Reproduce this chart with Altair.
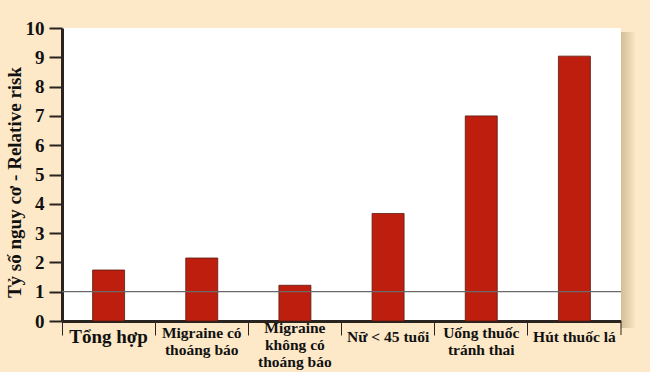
import altair as alt
import pandas as pd

categories = [
    "Tổng hợp",
    "Migraine có\nthoáng báo",
    "Migraine\nkhông có\nthoáng báo",
    "Nữ < 45 tuổi",
    "Uống thuốc\ntránh thai",
    "Hút thuốc lá",
]
relative_risk = [1.74, 2.15, 1.22, 3.67, 7.0, 9.04]
reference_value = [1]
y_ticks = list(range(0, 11))

df = pd.DataFrame({"cat": categories, "rr": relative_risk})
ref = pd.DataFrame({"v": reference_value})

FONT = "Liberation Serif"
DARK = "#2a2420"
BG = "#FDE8C7"

xscale = alt.Scale(domain=categories, paddingInner=0, paddingOuter=0)
yscale = alt.Scale(domain=[0, 10], nice=False)

pad_cond = {
    "condition": [
        {"test": "length(split(datum.value, '\\n')) >= 3", "value": -15},
        {"test": "length(split(datum.value, '\\n')) == 2", "value": -10},
        {"test": "datum.value == 'Tổng hợp'", "value": -8},
    ],
    "value": -6,
}

xaxis = alt.Axis(
    labelExpr="split(datum.label, '\\n')",
    labelAngle=0,
    labelFont=FONT,
    labelFontWeight="bold",
    labelFontSize={"condition": {"test": "datum.value == 'Tổng hợp'", "value": 19}, "value": 15.5},
    labelColor="#111111",
    labelLineHeight=17,
    labelBaseline="top",
    labelPadding=pad_cond,
    labelLimit=200,
    domainColor=DARK,
    domainWidth=3,
    tickColor=DARK,
    tickWidth=1,
    tickSize=14,
    bandPosition=0,
    grid=False,
)

yaxis = alt.Axis(
    values=y_ticks,
    labelOverlap=False,
    labelFont=FONT,
    labelFontWeight="bold",
    labelFontSize=19,
    labelColor="#111111",
    labelPadding=5,
    domainColor=DARK,
    domainWidth=3,
    tickColor=DARK,
    tickWidth=2,
    tickSize=13,
    grid=False,
    titleFont=FONT,
    titleFontWeight="bold",
    titleFontSize=19,
    titleColor="#111111",
    titlePadding=1,
    titleY=154,
)

YTITLE = "Tỷ số nguy cơ - Relative risk"

bars = alt.Chart(df).mark_bar(
    width=32, color="#BE1E0E", stroke="#5a1a10", strokeWidth=0.8
).encode(
    x=alt.X("cat:N", scale=xscale, sort=None, title=None, axis=xaxis),
    y=alt.Y("rr:Q", scale=yscale, title=YTITLE, axis=yaxis),
)

last_tick = alt.Chart(df.tail(1)).mark_rule(color=DARK, strokeWidth=1).encode(
    x=alt.X("cat:N", scale=xscale, sort=None, bandPosition=1, title=None, axis=xaxis),
    y=alt.value(293),
    y2=alt.value(307),
)

shadow = alt.Chart(ref).mark_rect(
    fill={
        "gradient": "linear",
        "x1": 0, "x2": 1, "y1": 0, "y2": 0,
        "stops": [
            {"offset": 0, "color": "#c9b38c"},
            {"offset": 1, "color": BG},
        ],
    },
    opacity=0.8,
).encode(
    x=alt.value(559),
    x2=alt.value(574),
    y=alt.value(4),
    y2=alt.value(300),
)

refline = alt.Chart(ref).mark_rule(color="#6a6a6a", strokeWidth=1.2).encode(
    y=alt.Y("v:Q", scale=yscale, title=YTITLE, axis=yaxis)
)

chart = alt.layer(bars, shadow, refline, last_tick).properties(
    width=559,
    height=293,
    background=BG,
    autosize=alt.AutoSizeParams(type="none"),
    padding={"left": 62, "top": 28, "right": 29, "bottom": 51},
).configure_view(fill="white", stroke=None)

chart.save("out.html", embed_options={"renderer": "svg", "actions": False})
